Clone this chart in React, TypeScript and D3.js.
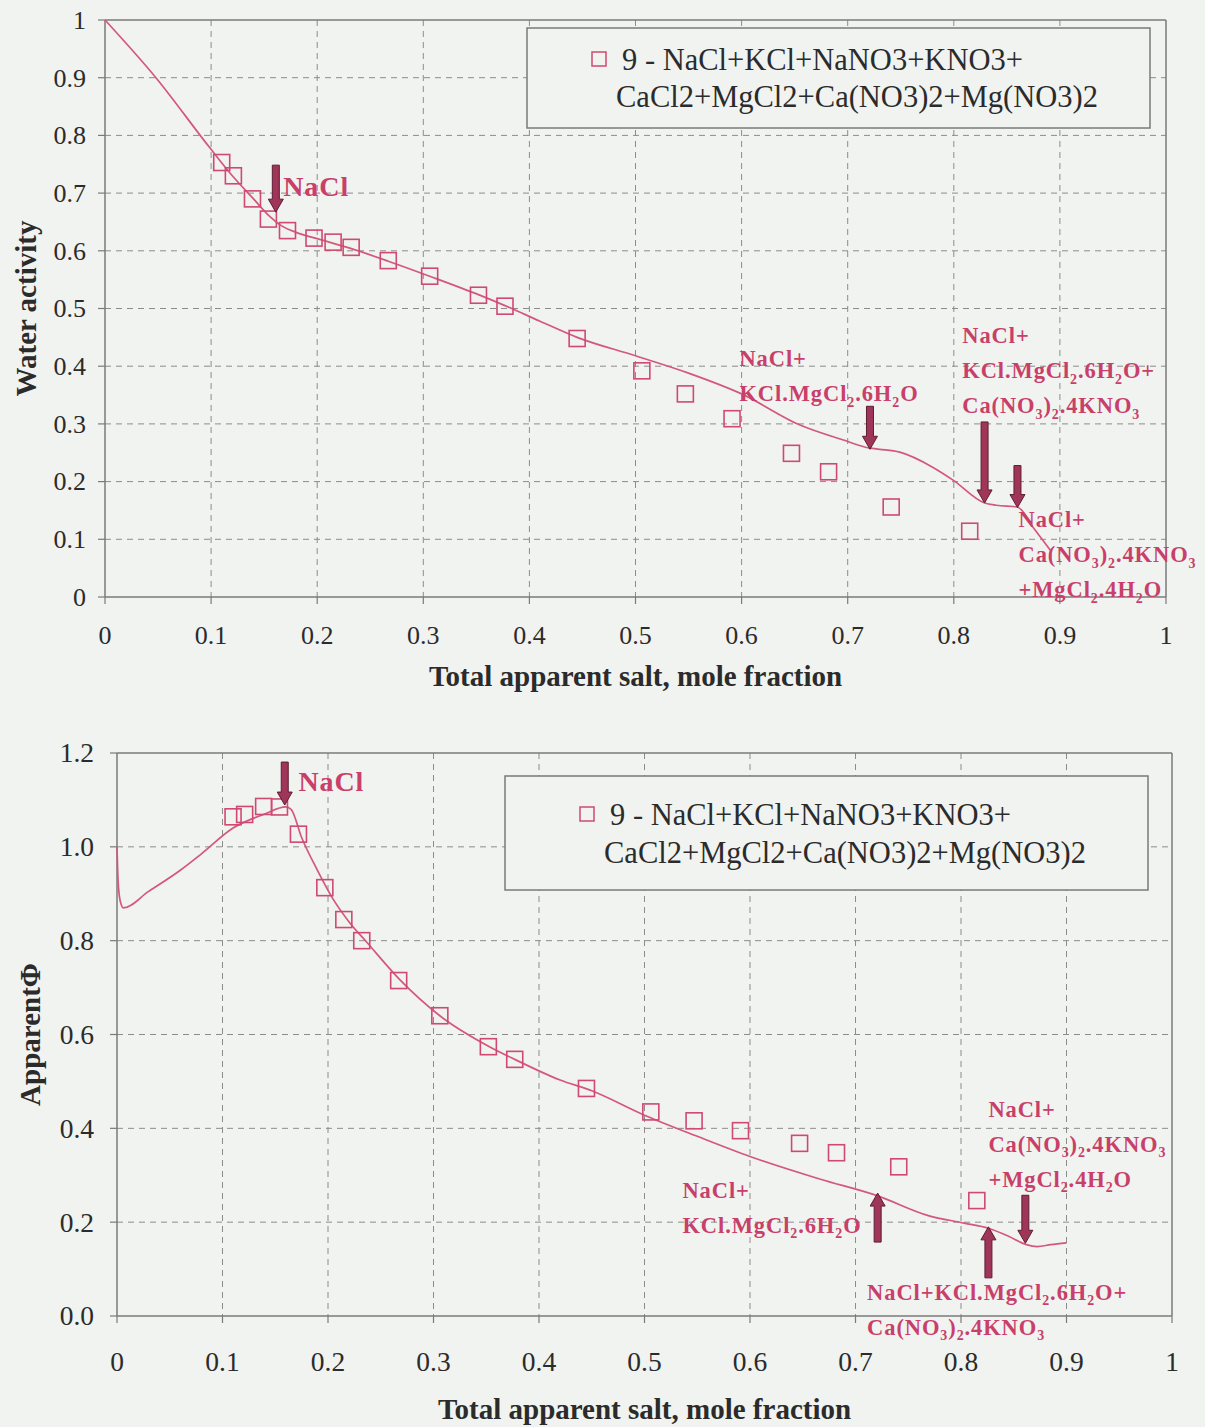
import React from 'react';
import * as d3 from 'd3';

// ---------- data ----------
const xTickValues = [0, 0.1, 0.2, 0.3, 0.4, 0.5, 0.6, 0.7, 0.8, 0.9, 1];
const xTickLabels = ['0', '0.1', '0.2', '0.3', '0.4', '0.5', '0.6', '0.7', '0.8', '0.9', '1'];
const awTickValues = [0, 0.1, 0.2, 0.3, 0.4, 0.5, 0.6, 0.7, 0.8, 0.9, 1];
const awTickLabels = ['0', '0.1', '0.2', '0.3', '0.4', '0.5', '0.6', '0.7', '0.8', '0.9', '1'];
const phiTickValues = [0, 0.2, 0.4, 0.6, 0.8, 1.0, 1.2];
const phiTickLabels = ['0.0', '0.2', '0.4', '0.6', '0.8', '1.0', '1.2'];

// experimental compositions (total apparent salt mole fraction)
const expX = [0.110, 0.121, 0.139, 0.154, 0.172, 0.197, 0.215, 0.232, 0.267, 0.306,
  0.352, 0.377, 0.445, 0.506, 0.547, 0.591, 0.647, 0.682, 0.741, 0.815];
const expAw = [0.753, 0.730, 0.690, 0.655, 0.635, 0.622, 0.615, 0.606, 0.583, 0.556,
  0.523, 0.504, 0.448, 0.392, 0.352, 0.309, 0.249, 0.217, 0.156, 0.114];
const expPhi = [1.064, 1.069, 1.086, 1.085, 1.027, 0.913, 0.845, 0.800, 0.715, 0.640,
  0.574, 0.547, 0.485, 0.435, 0.416, 0.395, 0.368, 0.348, 0.318, 0.246];

// model curves
const modelAwX = [0, 0.048, 0.099, 0.12, 0.14, 0.155, 0.165, 0.18, 0.2, 0.23, 0.267, 0.306,
  0.352, 0.377, 0.41, 0.445, 0.5, 0.55, 0.6, 0.655, 0.696, 0.721, 0.73, 0.749, 0.78, 0.799,
  0.829, 0.84, 0.86, 0.875, 0.891];
const modelAw = [1.0, 0.9, 0.778, 0.73, 0.69, 0.66, 0.645, 0.632, 0.621, 0.605, 0.582, 0.556,
  0.524, 0.505, 0.478, 0.45, 0.418, 0.388, 0.352, 0.298, 0.272, 0.258, 0.256, 0.251, 0.225, 0.203,
  0.163, 0.159, 0.156, 0.12, 0.081];
const modelPhiX = [0, 0.001, 0.003, 0.006, 0.03, 0.06, 0.08, 0.11, 0.14, 0.16, 0.165, 0.175,
  0.19, 0.205, 0.22, 0.237, 0.268, 0.306, 0.353, 0.377, 0.42, 0.45, 0.5, 0.55, 0.6, 0.666,
  0.721, 0.769, 0.803, 0.826, 0.845, 0.862, 0.872, 0.885, 0.9];
const modelPhi = [1.0, 0.93, 0.885, 0.870, 0.905, 0.950, 0.985, 1.04, 1.07, 1.085, 1.08, 1.02,
  0.95, 0.888, 0.84, 0.796, 0.717, 0.64, 0.574, 0.547, 0.503, 0.48, 0.428, 0.383, 0.34, 0.292,
  0.256, 0.214, 0.198, 0.187, 0.17, 0.152, 0.148, 0.152, 0.156];

const legendLines = ['9 - NaCl+KCl+NaNO3+KNO3+', 'CaCl2+MgCl2+Ca(NO3)2+Mg(NO3)2'];

// annotations (data coordinates of arrow tips; label anchors)
const awArrows = [
  { x: 0.161, y: 0.667, dir: 'down', len: 47 },
  { x: 0.721, y: 0.256, dir: 'down', len: 43 },
  { x: 0.829, y: 0.163, dir: 'down', len: 81 },
  { x: 0.860, y: 0.155, dir: 'down', len: 42 },
];
const awLabels = [
  { x: 0.168, y: 0.695, lines: ['NaCl'], big: true },
  { x: 0.598, y: 0.400, lines: ['NaCl+', 'KCl.MgCl{2}.6H{2}O'] },
  { x: 0.808, y: 0.440, lines: ['NaCl+', 'KCl.MgCl{2}.6H{2}O+', 'Ca(NO{3}){2}.4KNO{3}'] },
  { x: 0.861, y: 0.121, lines: ['NaCl+', 'Ca(NO{3}){2}.4KNO{3}', '+MgCl{2}.4H{2}O'] },
];
const phiArrows = [
  { x: 0.159, y: 1.089, dir: 'down', len: 43 },
  { x: 0.721, y: 0.262, dir: 'up', len: 49 },
  { x: 0.826, y: 0.190, dir: 'up', len: 51 },
  { x: 0.861, y: 0.155, dir: 'down', len: 48 },
];
const phiLabels = [
  { x: 0.172, y: 1.120, lines: ['NaCl'], big: true },
  { x: 0.536, y: 0.252, lines: ['NaCl+', 'KCl.MgCl{2}.6H{2}O'] },
  { x: 0.826, y: 0.424, lines: ['NaCl+', 'Ca(NO{3}){2}.4KNO{3}', '+MgCl{2}.4H{2}O'] },
  { x: 0.711, y: 0.035, lines: ['NaCl+KCl.MgCl{2}.6H{2}O+', 'Ca(NO{3}){2}.4KNO{3}'] },
];

// ---------- styles ----------
const SERIF = '"Liberation Serif", "Times New Roman", serif';
const BG = '#f0f3f0';
const LINE_C = '#d4577d';
const MARK_C = '#cf4a70';
const ANN_C = '#c93f69';
const ARROW_FILL = '#a0355a';
const ARROW_STROKE = '#5c1d33';
const GRID_C = '#8c8c8c';
const AXIS_C = '#7a7a7a';
const TEXT_C = '#2b2b2b';

function Chem({ text, x, y, size }: { text: string; x: number; y: number; size: number }) {
  const parts = text.split(/(\{\d\})/).filter((p) => p.length > 0);
  const shift = size * 0.24;
  let prevSub = false;
  return (
    <text x={x} y={y} fontFamily={SERIF} fontWeight="bold" fontSize={size} fill={ANN_C} letterSpacing={0.9}>
      {parts.map((p, i) => {
        const isSub = /^\{\d\}$/.test(p);
        let dy = 0;
        if (isSub && !prevSub) dy = shift;
        if (!isSub && prevSub) dy = -shift;
        prevSub = isSub;
        return (
          <tspan key={i} dy={dy} fontSize={isSub ? size * 0.62 : size}>
            {isSub ? p[1] : p}
          </tspan>
        );
      })}
    </text>
  );
}

function Arrow({ tx, ty, dir, len }: { tx: number; ty: number; dir: string; len: number }) {
  const s = dir === 'down' ? 1 : -1;
  const sw = 3.5, hw = 7.5, hl = 13;
  const pts = [
    [tx - sw, ty - s * len],
    [tx + sw, ty - s * len],
    [tx + sw, ty - s * hl],
    [tx + hw, ty - s * hl],
    [tx, ty],
    [tx - hw, ty - s * hl],
    [tx - sw, ty - s * hl],
  ];
  return <polygon points={pts.map((p) => p.join(',')).join(' ')} fill={ARROW_FILL} stroke={ARROW_STROKE} strokeWidth={1} />;
}

type PanelProps = {
  left: number; right: number; top: number; bottom: number;
  yDomain: [number, number]; yTicks: number[]; yLabels: string[];
  expY: number[]; modelX: number[]; modelY: number[];
  yTitle: string; yTitleX: number; xTitleY: number; xLabelY: number; yLabelX: number;
  tickFont: number;
  legend: { x: number; y: number; w: number; h: number; mx: number; l1x: number; l2x: number; l1y: number; l2y: number };
  arrows: { x: number; y: number; dir: string; len: number }[];
  labels: { x: number; y: number; lines: string[]; big?: boolean }[];
};

function Panel(p: PanelProps) {
  const x = d3.scaleLinear().domain([0, 1]).range([p.left, p.right]);
  const y = d3.scaleLinear().domain(p.yDomain).range([p.bottom, p.top]);
  const line = d3.line<number>()
    .x((_, i) => x(p.modelX[i]))
    .y((d) => y(d))
    .curve(d3.curveMonotoneX);
  const path = line(p.modelY) || '';
  const ms = 16;
  return (
    <g>
      {/* grid */}
      {xTickValues.slice(1, -1).map((v) => (
        <line key={'gx' + v} x1={x(v)} x2={x(v)} y1={p.top} y2={p.bottom} stroke={GRID_C} strokeWidth={1} strokeDasharray="6,5" />
      ))}
      {p.yTicks.slice(1, -1).map((v) => (
        <line key={'gy' + v} x1={p.left} x2={p.right} y1={y(v)} y2={y(v)} stroke={GRID_C} strokeWidth={1} strokeDasharray="6,5" />
      ))}
      {/* frame */}
      <line x1={p.left} x2={p.right} y1={p.top} y2={p.top} stroke={AXIS_C} strokeWidth={1.5} />
      <line x1={p.right} x2={p.right} y1={p.top} y2={p.bottom} stroke={AXIS_C} strokeWidth={1.5} />
      <line x1={p.left} x2={p.left} y1={p.top} y2={p.bottom} stroke={AXIS_C} strokeWidth={1.5} />
      <line x1={p.left} x2={p.right} y1={p.bottom} y2={p.bottom} stroke={AXIS_C} strokeWidth={1.5} />
      {/* ticks */}
      {xTickValues.map((v, i) => (
        <g key={'tx' + v}>
          <line x1={x(v)} x2={x(v)} y1={p.bottom} y2={p.bottom + 7} stroke={AXIS_C} strokeWidth={1.2} />
          <text x={x(v)} y={p.xLabelY} textAnchor="middle" fontFamily={SERIF} fontSize={p.tickFont} fill={TEXT_C}>{xTickLabels[i]}</text>
        </g>
      ))}
      {p.yTicks.map((v, i) => (
        <g key={'ty' + v}>
          <line x1={p.left - 7} x2={p.left} y1={y(v)} y2={y(v)} stroke={AXIS_C} strokeWidth={1.2} />
          <text x={p.yLabelX} y={y(v)} dy="0.34em" textAnchor="end" fontFamily={SERIF} fontSize={p.tickFont} fill={TEXT_C}>{p.yLabels[i]}</text>
        </g>
      ))}
      {/* titles */}
      <text x={(p.left + p.right) / 2} y={p.xTitleY} textAnchor="middle" fontFamily={SERIF} fontWeight="bold" fontSize={29} fill={TEXT_C}>Total apparent salt, mole fraction</text>
      <text transform={`translate(${p.yTitleX},${(p.top + p.bottom) / 2}) rotate(-90)`} textAnchor="middle" fontFamily={SERIF} fontWeight="bold" fontSize={29} fill={TEXT_C}>{p.yTitle}</text>
      {/* model line */}
      <path d={path} fill="none" stroke={LINE_C} strokeWidth={1.7} />
      {/* experimental markers */}
      {expX.map((xv, i) => (
        <rect key={'m' + i} x={x(xv) - ms / 2} y={y(p.expY[i]) - ms / 2} width={ms} height={ms} fill="none" stroke={MARK_C} strokeWidth={1.6} />
      ))}
      {/* arrows */}
      {p.arrows.map((a, i) => (
        <Arrow key={'a' + i} tx={x(a.x)} ty={y(a.y)} dir={a.dir} len={a.len} />
      ))}
      {/* annotation labels */}
      {p.labels.map((l, i) => (
        <g key={'l' + i}>
          {l.lines.map((t, j) => (
            <Chem key={j} text={t} x={x(l.x)} y={y(l.y) + j * 35} size={l.big ? 28 : 22.5} />
          ))}
        </g>
      ))}
      {/* legend */}
      <rect x={p.legend.x} y={p.legend.y} width={p.legend.w} height={p.legend.h} fill={BG} stroke={AXIS_C} strokeWidth={1.5} />
      <rect x={p.legend.mx - 7} y={p.legend.l1y - 8} width={14} height={14} fill="none" stroke={MARK_C} strokeWidth={1.5} />
      <text x={p.legend.l1x} y={p.legend.l1y} dy="0.34em" fontFamily={SERIF} fontSize={30.5} fill={TEXT_C}>{legendLines[0]}</text>
      <text x={p.legend.l2x} y={p.legend.l2y} dy="0.34em" fontFamily={SERIF} fontSize={30.5} fill={TEXT_C}>{legendLines[1]}</text>
    </g>
  );
}

export default function App() {
  return (
    <div style={{ position: 'absolute', left: 0, top: 0 }}>
      <svg width={1205} height={1427} style={{ display: 'block' }}>
        <rect x={0} y={0} width={1205} height={1427} fill={BG} />
        <Panel
          left={105} right={1166} top={20} bottom={597}
          yDomain={[0, 1]} yTicks={awTickValues} yLabels={awTickLabels}
          expY={expAw} modelX={modelAwX} modelY={modelAw}
          yTitle="Water activity" yTitleX={36} xTitleY={686} xLabelY={644} yLabelX={86}
          tickFont={26}
          legend={{ x: 527, y: 28, w: 623, h: 100, mx: 599, l1x: 622, l2x: 616, l1y: 60, l2y: 97 }}
          arrows={awArrows} labels={awLabels}
        />
        <Panel
          left={117} right={1172} top={753} bottom={1316}
          yDomain={[0, 1.2]} yTicks={phiTickValues} yLabels={phiTickLabels}
          expY={expPhi} modelX={modelPhiX} modelY={modelPhi}
          yTitle="ApparentΦ" yTitleX={40} xTitleY={1419} xLabelY={1371} yLabelX={94}
          tickFont={27.5}
          legend={{ x: 505, y: 776, w: 643, h: 114, mx: 587, l1x: 610, l2x: 604, l1y: 815, l2y: 853 }}
          arrows={phiArrows} labels={phiLabels}
        />
      </svg>
    </div>
  );
}
